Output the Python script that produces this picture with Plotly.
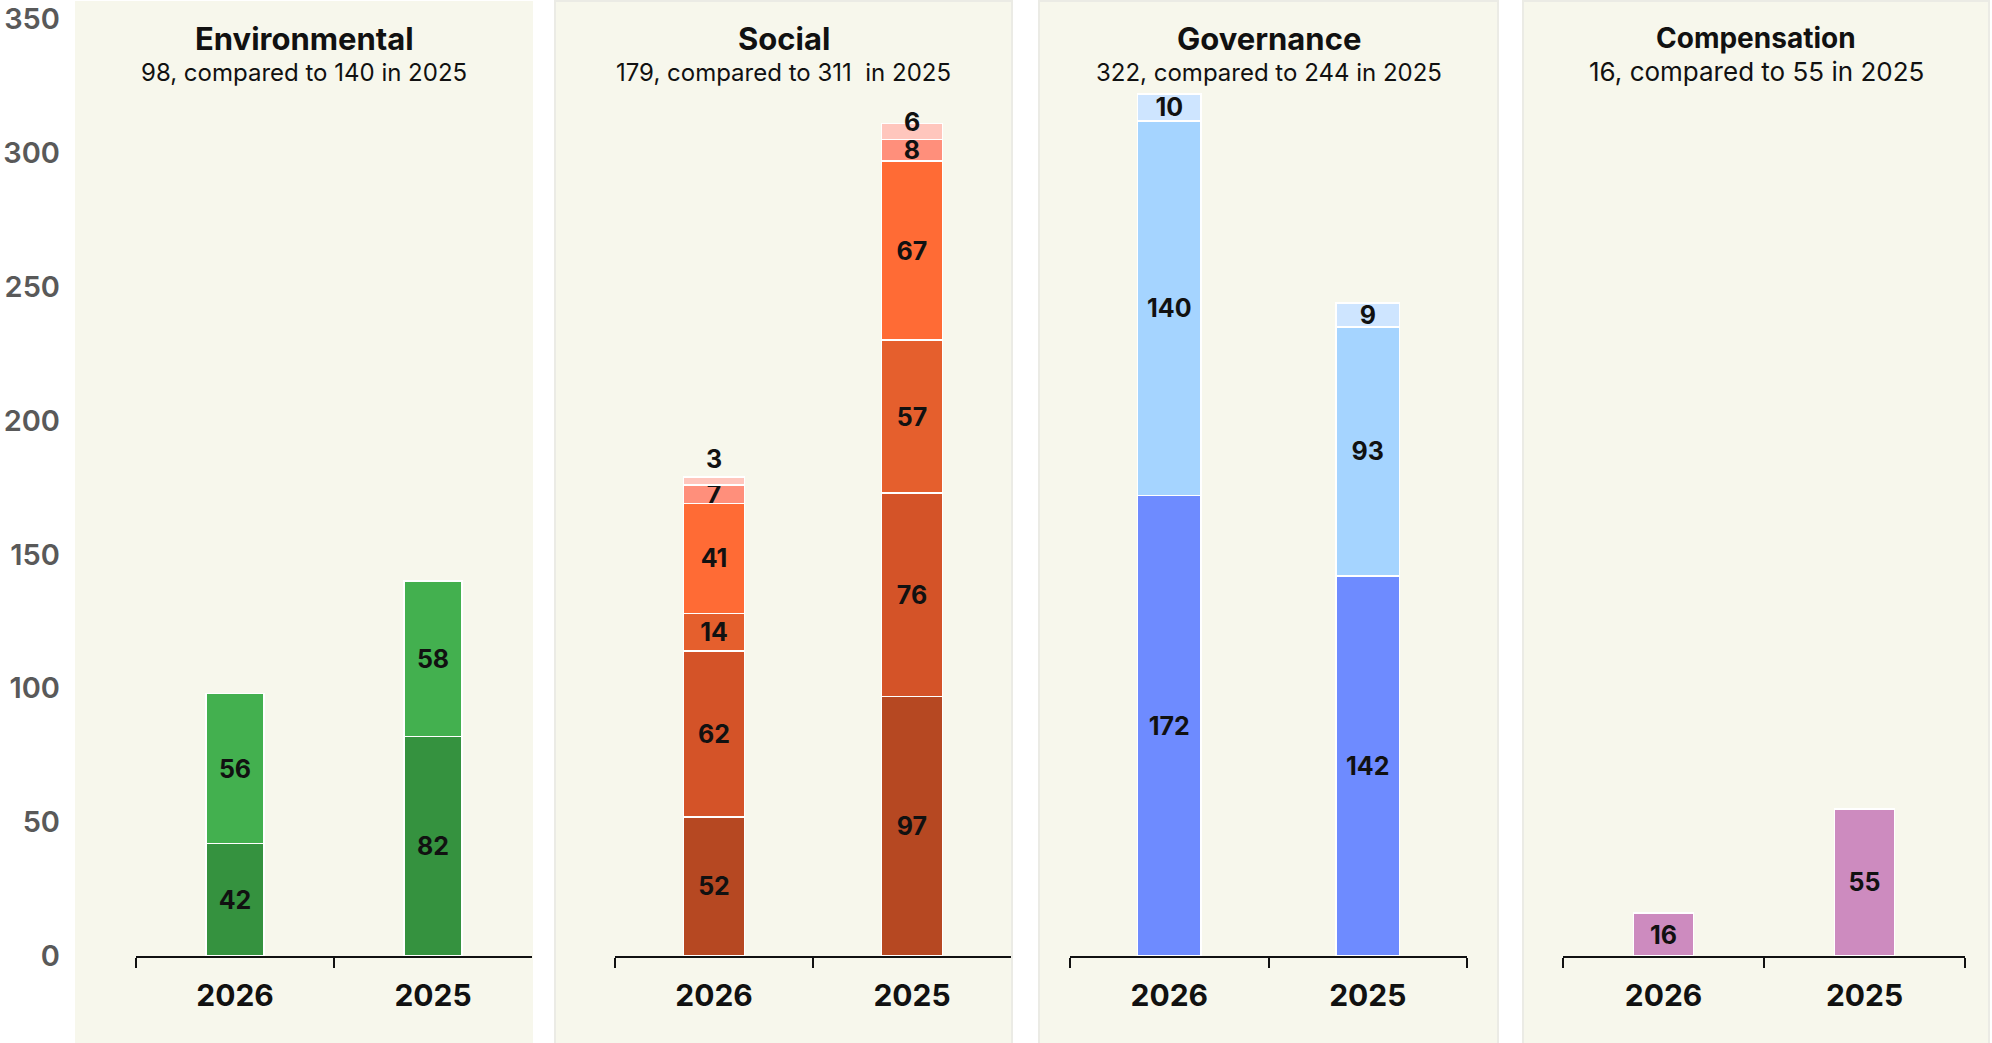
import plotly.graph_objects as go

# ---- data -----------------------------------------------------------------
years = ["2026", "2025"]

env_base = [42, 82]
env_top = [56, 58]

social_1 = [52, 97]
social_2 = [62, 76]
social_3 = [14, 57]
social_4 = [41, 67]
social_5 = [7, 8]
social_6 = [3, 6]

gov_1 = [172, 142]
gov_2 = [140, 93]
gov_3 = [10, 9]

comp = [16, 55]

panel_titles = ["Environmental", "Social", "Governance", "Compensation"]
panel_subtitles = [
    "98, compared to 140 in 2025",
    "179, compared to 311 \u00a0in 2025",
    "322, compared to 244 in 2025",
    "16, compared to 55 in 2025",
]
y_ticks = [0, 50, 100, 150, 200, 250, 300, 350]

# ---- styling ---------------------------------------------------------------
W, H = 1992, 1043
TOP, BOTTOM = 19, 956          # pixel rows of y=350 and y=0
FONT = "Inter"
BG = "#f7f7ec"
BORDER = "#ebebe5"

def px_x(px):
    return px / W

def px_y(py):
    return (BOTTOM - py) / (BOTTOM - TOP)

env_colors = ["#35923f", "#43b04f"]
social_colors = ["#b64822", "#d45328", "#e55f2d", "#ff6b35", "#ff8f7b", "#ffc6bd"]
gov_colors = ["#6e8bff", "#a5d4ff", "#cee5ff"]
comp_color = "#cd8bbf"

# panels: (axis-domain px, background px, bar width)
panels = [
    ((136, 532), (75, 533), 0.29),
    ((615, 1011), (555, 1012), 0.31),
    ((1070, 1467), (1039, 1498), 0.32),
    ((1563, 1965), (1523, 1989), 0.30),
]

stacks = [
    [(env_base, env_colors[0]), (env_top, env_colors[1])],
    [(social_1, social_colors[0]), (social_2, social_colors[1]),
     (social_3, social_colors[2]), (social_4, social_colors[3]),
     (social_5, social_colors[4]), (social_6, social_colors[5])],
    [(gov_1, gov_colors[0]), (gov_2, gov_colors[1]), (gov_3, gov_colors[2])],
    [(comp, comp_color)],
]

fig = go.Figure()

label_font = dict(family=FONT, size=25, color="#111111", weight="bold")

for i, (segments, (dom, bgx, bw)) in enumerate(zip(stacks, panels), start=1):
    xa = "x" if i == 1 else f"x{i}"
    ya = "y" if i == 1 else f"y{i}"
    totals = [sum(seg[0][k] for seg in segments) for k in range(len(years))]
    for j, (vals, color) in enumerate(segments):
        is_top = j == len(segments) - 1
        texts = [str(v) for v in vals]
        positions = []
        for k, v in enumerate(vals):
            if is_top and len(segments) > 1 and v < 5:
                # thinnest cap: label sits just above the stack
                positions.append("outside")
            elif is_top and len(segments) > 1 and v < 8:
                # thin cap: label straddles the top edge of the stack
                positions.append("none")
                fig.add_annotation(
                    x=k, y=totals[k], xref=xa, yref=ya,
                    text=str(v), showarrow=False,
                    xanchor="center", yanchor="middle", yshift=1,
                    font=label_font,
                )
            else:
                positions.append("inside")
        fig.add_trace(go.Bar(
            x=years, y=vals, xaxis=xa, yaxis=ya,
            marker=dict(color=color, line=dict(color="white", width=1.6)),
            width=bw,
            text=texts,
            textposition=positions,
            textangle=0,
            insidetextanchor="middle",
            constraintext="none",
            insidetextfont=label_font,
            outsidetextfont=label_font,
            cliponaxis=False,
            showlegend=False,
            hoverinfo="skip",
        ))

    fig.layout[f"xaxis{'' if i == 1 else i}"] = dict(
        domain=[px_x(dom[0]), px_x(dom[1])],
        anchor=ya,
        type="category",
        categoryorder="array", categoryarray=years,
        range=[-0.5, 1.5],
        showline=True, linecolor="#111111", linewidth=2,
        ticks="outside", tickson="boundaries", ticklen=10,
        tickwidth=2, tickcolor="#111111",
        tickfont=dict(family=FONT, size=30, color="#111111", weight="bold"),
        ticklabelstandoff=12,
        showgrid=False, zeroline=False, fixedrange=True,
    )
    yaxis = dict(
        domain=[0, 1], range=[0, 350],
        showgrid=False, zeroline=False, showline=False, fixedrange=True,
    )
    if i == 1:
        yaxis.update(
            anchor="free", position=px_x(60),
            tickvals=y_ticks, ticks="",
            tickfont=dict(family=FONT, size=29, color="#595959", weight=600),
        )
    else:
        yaxis.update(anchor=xa, visible=False)
    fig.layout[f"yaxis{'' if i == 1 else i}"] = yaxis

    # panel background card
    fig.add_shape(
        type="rect", xref="paper", yref="paper", layer="below",
        x0=px_x(bgx[0]), x1=px_x(bgx[1]),
        y0=px_y(H + 2), y1=px_y(1),
        fillcolor=BG,
        line=dict(color=BORDER if i > 1 else BG, width=2 if i > 1 else 0),
    )

    cx = px_x((bgx[0] + bgx[1]) / 2)
    small = i == 4
    fig.add_annotation(
        x=cx, y=px_y(38), xref="paper", yref="paper",
        text=panel_titles[i - 1], showarrow=False,
        xanchor="center", yanchor="middle",
        font=dict(family=FONT, size=28 if small else 31, color="#111111", weight="bold"),
    )
    fig.add_annotation(
        x=cx, y=px_y(71 if small else 73), xref="paper", yref="paper",
        text=panel_subtitles[i - 1], showarrow=False,
        xanchor="center", yanchor="middle",
        font=dict(family=FONT, size=26 if small else 24, color="#111111"),
    )

fig.update_layout(
    width=W, height=H,
    barmode="stack",
    margin=dict(l=0, r=0, t=TOP, b=H - BOTTOM),
    paper_bgcolor="white",
    plot_bgcolor="rgba(0,0,0,0)",
    font=dict(family=FONT),
    showlegend=False,
)

fig.write_html("out.html", config={"displayModeBar": False})
